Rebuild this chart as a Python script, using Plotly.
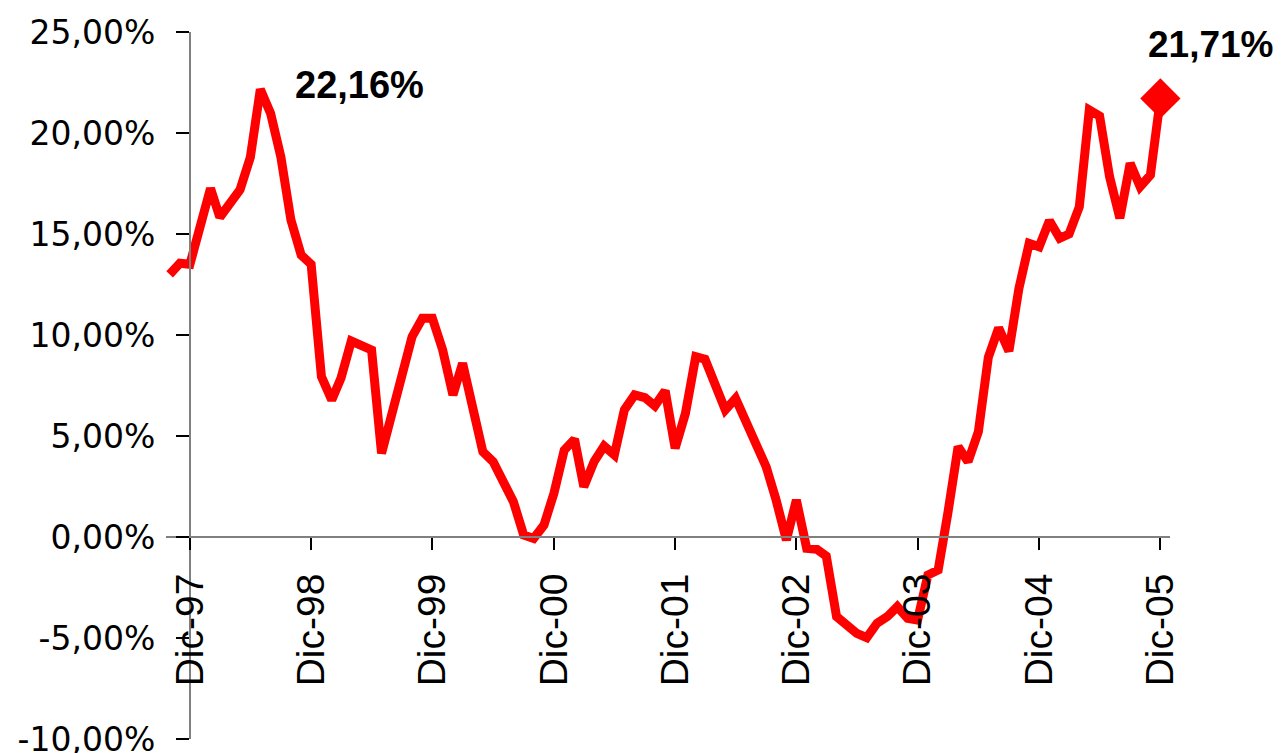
import pandas as pd
import plotly.graph_objects as go

# Monthly values (%), Oct-1997 .. Dec-2005
start_month = "1997-10-01"
values = [
    13.0, 13.55, 13.5, 15.2, 17.26, 15.83, 16.5, 17.2, 18.8, 22.16,
    20.97, 18.8, 15.7, 13.96, 13.5, 7.94, 6.78, 7.87, 9.7, 9.5,
    9.26, 4.14, 6.1, 8.0, 9.92, 10.83, 10.83, 9.26, 7.03, 8.6,
    6.1, 4.22, 3.73, 2.74, 1.75, 0.1, -0.07, 0.59, 2.16, 4.3,
    4.84, 2.49, 3.73, 4.5, 4.06, 6.29, 7.03, 6.9, 6.49, 7.24,
    4.39, 6.12, 8.93, 8.8, 7.6, 6.29, 6.86, 5.79, 4.64, 3.48,
    1.83, -0.15, 1.83, -0.56, -0.61, -0.94, -3.94, -4.36, -4.77, -4.98,
    -4.27, -3.94, -3.45, -4.03, -4.11, -1.88, -1.63, 1.17, 4.47, 3.73,
    5.21, 8.9, 10.35, 9.2, 12.3, 14.54, 14.37, 15.66, 14.79, 15.0,
    16.35, 21.14, 20.84, 17.84, 15.78, 18.5, 17.34, 17.92, 21.71,
]
tick_years = [1997, 1998, 1999, 2000, 2001, 2002, 2003, 2004, 2005]
tick_labels = [f"Dic-{str(y)[2:]}" for y in tick_years]
y_ticks = [25, 20, 15, 10, 5, 0, -5, -10]
y_tick_labels = [f"{v:.2f}%".replace(".", ",") for v in y_ticks]

dates = pd.date_range(start_month, periods=len(values), freq="MS")
tick_dates = [pd.Timestamp(f"{y}-12-01") for y in tick_years]

x0 = pd.Timestamp("1997-09-20")
x1 = pd.Timestamp("2005-12-30")
y_axis_pos = (tick_dates[0] - x0) / (x1 - x0)
ymin, ymax = -10, 25
x_axis_pos = (0 - ymin) / (ymax - ymin)

peak_i = max(range(len(values)), key=lambda i: values[i])
fmt = lambda v: f"{v:.2f}%".replace(".", ",")

fig = go.Figure()
fig.add_trace(go.Scatter(
    x=dates, y=values, mode="lines",
    line=dict(color="#FF0000", width=9),
    showlegend=False, hoverinfo="skip",
))
fig.add_trace(go.Scatter(
    x=[dates[-1]], y=[values[-1]], mode="markers",
    marker=dict(symbol="diamond", size=31, color="#FF0000"),
    showlegend=False, hoverinfo="skip", cliponaxis=False,
))

fig.add_annotation(
    x=dates[peak_i], y=values[peak_i], text=f"<b>{fmt(values[peak_i])}</b>",
    showarrow=False, xanchor="left", yanchor="middle", xshift=33, yshift=4,
    font=dict(family="Liberation Sans, Arial", size=38, color="black"),
)
fig.add_annotation(
    x=dates[-1], y=values[-1], text=f"<b>{fmt(values[-1])}</b>",
    showarrow=False, xanchor="left", yanchor="middle", xshift=-14, yshift=54,
    font=dict(family="Liberation Sans, Arial", size=37, color="black"),
)

fig.update_layout(
    width=1282, height=753,
    margin=dict(l=166, r=112, t=32, b=14, autoexpand=False),
    paper_bgcolor="white", plot_bgcolor="white",
    font=dict(family="Liberation Sans, Arial", color="black"),
    xaxis=dict(
        type="date", range=[x0, x1], anchor="free", position=x_axis_pos,
        automargin=False,
        showgrid=False, zeroline=False, showline=True,
        linecolor="#808080", linewidth=2,
        ticks="outside", ticklen=12, tickwidth=1.5, tickcolor="black",
        tickvals=tick_dates, ticktext=tick_labels, tickangle=-90,
        tickfont=dict(family="Liberation Sans, Arial", size=39, color="black"),
        ticklabelstandoff=8,
    ),
    yaxis=dict(
        range=[ymin, ymax], anchor="free", position=y_axis_pos,
        automargin=False, ticklabeloverflow="allow",
        showgrid=False, zeroline=False, showline=True,
        linecolor="#808080", linewidth=2,
        ticks="outside", ticklen=13, tickwidth=1.5, tickcolor="black",
        tickvals=y_ticks, ticktext=y_tick_labels,
        tickfont=dict(family="DejaVu Sans", size=33, color="black"),
        ticklabelstandoff=14,
    ),
)

# remove the browser's default 8px body margin so the figure fills the window
fig.write_html(
    "out.html",
    config={"displayModeBar": False},
    post_script="document.body.style.margin='0';",
)
